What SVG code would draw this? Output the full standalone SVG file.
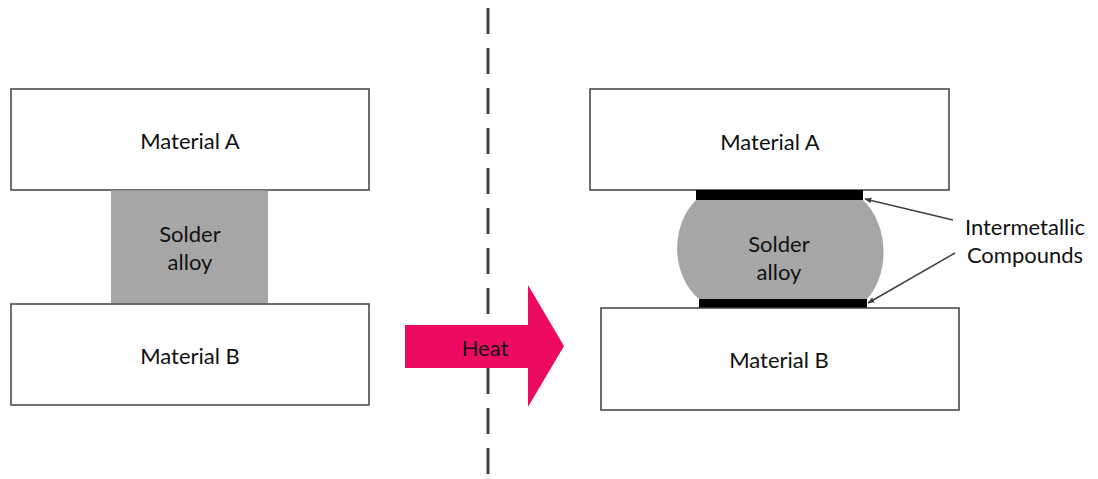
<svg xmlns="http://www.w3.org/2000/svg" width="1098" height="479" viewBox="0 0 1098 479">
  <style>
    .box { fill: #ffffff; stroke: #3f3f3f; stroke-width: 1.5; }
    .solder { fill: #a6a6a6; stroke: none; }
    .imc { fill: #000000; }
    .lbl { font-family: Lato, "Open Sans", "Liberation Sans", sans-serif; font-size: 22px; fill: #111111; text-anchor: middle; dominant-baseline: central; }
    .lead { stroke: #404040; stroke-width: 1.5; fill: none; marker-end: url(#ah); }
  </style>
  <defs>
    <marker id="ah" viewBox="0 0 10 10" refX="9" refY="5" markerWidth="7" markerHeight="7" orient="auto" markerUnits="userSpaceOnUse">
      <path d="M0,1 L10,5 L0,9 Z" fill="#404040"/>
    </marker>
  </defs>
  <rect width="1098" height="479" fill="#ffffff"/>

  <g id="divider">
    <line x1="488" y1="8" x2="488" y2="479" stroke="#404040" stroke-width="3" stroke-dasharray="26 14"/>
  </g>

  <g id="left-material-a">
    <rect class="box" x="11" y="89" width="358" height="101"/>
    <text class="lbl" x="190" y="140">Material A</text>
  </g>
  <g id="left-solder">
    <rect class="solder" x="111" y="190.5" width="157" height="113"/>
    <text class="lbl" x="190" y="233">Solder</text>
    <text class="lbl" x="190" y="261">alloy</text>
  </g>
  <g id="left-material-b">
    <rect class="box" x="11" y="304" width="358" height="101"/>
    <text class="lbl" x="190" y="355">Material B</text>
  </g>

  <g id="heat">
    <path d="M405,325 L528,325 L528,285 L564,346 L528,407 L528,368 L405,368 Z" fill="#ec0b61"/>
    <text class="lbl" x="485" y="347" fill="#1a0a10">Heat</text>
  </g>

  <g id="right-material-a">
    <rect class="box" x="590" y="89" width="359" height="101"/>
    <text class="lbl" x="770" y="141">Material A</text>
  </g>
  <g id="right-solder">
    <path class="solder" d="M697,199 L862,199 C890,225 890,275 866,300 L700,300 C670,275 670,225 697,199 Z"/>
    <text class="lbl" x="779" y="243">Solder</text>
    <text class="lbl" x="779" y="271">alloy</text>
  </g>
  <g id="imc-top">
    <rect class="imc" x="696" y="190" width="167" height="10"/>
  </g>
  <g id="imc-bottom">
    <rect class="imc" x="699" y="299" width="168" height="9"/>
  </g>
  <g id="right-material-b">
    <rect class="box" x="601" y="308" width="358" height="102"/>
    <text class="lbl" x="779" y="359">Material B</text>
  </g>

  <g id="imc-label">
    <text class="lbl" x="1025" y="226">Intermetallic</text>
    <text class="lbl" x="1025" y="254">Compounds</text>
  </g>

  <g id="connectors">
    <line class="lead" x1="953" y1="220" x2="865" y2="199"/>
    <line class="lead" x1="955" y1="253" x2="868" y2="303"/>
  </g>
</svg>
